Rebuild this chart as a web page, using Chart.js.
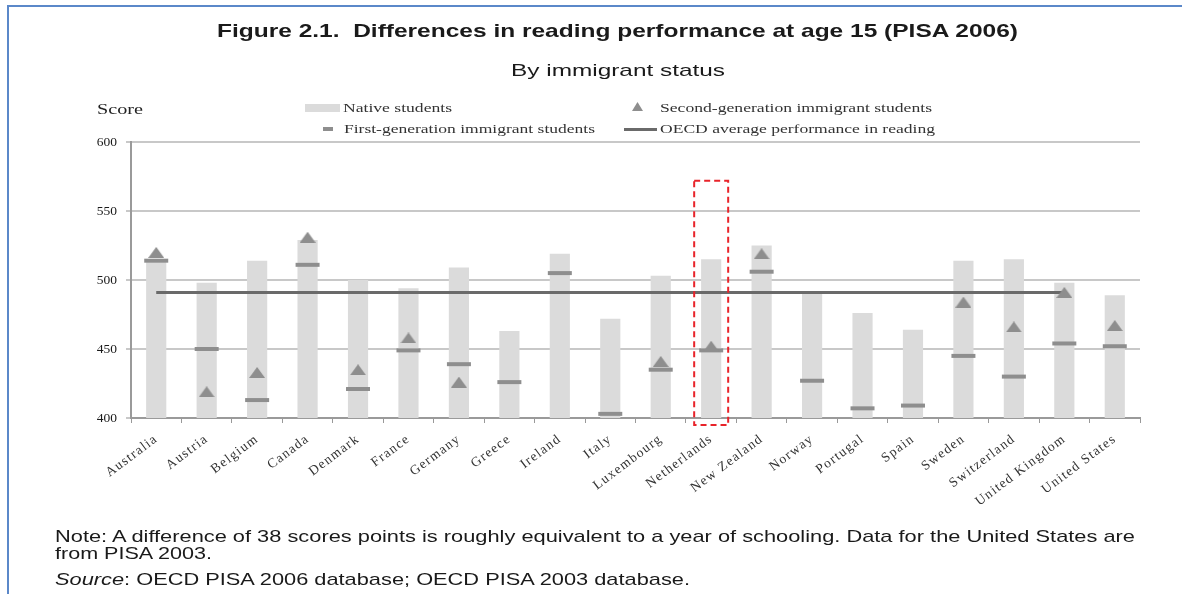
<!DOCTYPE html>
<html>
<head>
<meta charset="utf-8">
<script src="https://cdn.jsdelivr.net/npm/chart.js@4/dist/chart.umd.min.js"></script>
<style>
  body { margin: 0; background: #fff; }
  #wrap { position: relative; width: 1182px; height: 594px; overflow: hidden; }
  #frame { position: absolute; left: 7px; top: 5px; width: 1200px; height: 620px;
           border-top: 2px solid #5b88c9; border-left: 2px solid #5b88c9; }
  canvas { position: absolute; left: 0; top: 0; }
  .t { position: absolute; white-space: nowrap; line-height: 20px; transform-origin: 0 50%; }
  .sans { font-family: "Liberation Sans", Arial, sans-serif; color: #1a1a1a; }
  .serif { font-family: "Liberation Serif", "Times New Roman", serif; color: #333; }
</style>
</head>
<body>
<div id="wrap">
  <div id="frame"></div>
  <canvas id="myChart" width="1182" height="594"></canvas>

  <div class="t sans fit" data-w="801" style="left:217px;top:21px;font-size:18.5px;font-weight:bold;">Figure 2.1.&nbsp; Differences in reading performance at age 15 (PISA 2006)</div>
  <div class="t sans fit" data-w="214" style="left:511px;top:61px;font-size:17px;">By immigrant status</div>

  <div class="t serif fit" data-w="46" style="left:97px;top:99px;font-size:15px;color:#222;">Score</div>

  <div style="position:absolute;left:305px;top:104px;width:35px;height:8px;background:#dbdbdb;"></div>
  <div class="t serif fit" data-w="109" style="left:343px;top:98px;font-size:11.5px;">Native students</div>
  <svg style="position:absolute;left:632px;top:102px;" width="11" height="9"><polygon points="0,9 5.5,0 11,9" fill="#8e8e8e"/></svg>
  <div class="t serif fit" data-w="272" style="left:660px;top:98px;font-size:11.5px;">Second-generation immigrant students</div>
  <div style="position:absolute;left:323px;top:127px;width:10px;height:4px;background:#8e8e8e;"></div>
  <div class="t serif fit" data-w="251" style="left:344px;top:119px;font-size:11.5px;">First-generation immigrant students</div>
  <div style="position:absolute;left:624px;top:128px;width:33px;height:3px;background:#6a6a6a;"></div>
  <div class="t serif fit" data-w="275" style="left:660px;top:119px;font-size:11.5px;">OECD average performance in reading</div>

  <div class="t sans fit" data-w="1080" style="left:55px;top:527px;font-size:17px;">Note: A difference of 38 scores points is roughly equivalent to a year of schooling. Data for the United States are</div>
  <div class="t sans fit" data-w="157" style="left:55px;top:544px;font-size:17px;">from PISA 2003.</div>
  <div class="t sans fit" data-w="635" style="left:55px;top:570px;font-size:17px;"><i>Source</i>: OECD PISA 2006 database; OECD PISA 2003 database.</div>
</div>

<script>
// countries (x axis)
const countries = ['Australia', 'Austria', 'Belgium', 'Canada', 'Denmark', 'France', 'Germany', 'Greece',
  'Ireland', 'Italy', 'Luxembourg', 'Netherlands', 'New Zealand', 'Norway', 'Portugal', 'Spain',
  'Sweden', 'Switzerland', 'United Kingdom', 'United States'];

// scores
const nativeScores = [514, 498, 514, 529, 500, 494, 509, 463, 519, 472, 503, 515, 525, 491, 476, 464, 514, 515, 498, 489];
const firstGen = [514, 450, 413, 511, 421, 449, 439, 426, 505, 403, 435, 449, 506, 427, 407, 409, 445, 430, 454, 452];
const secondGen = [520, 419, 433, 531, 435, 458, 426, null, null, null, 441, 452, 519, null, null, null, 484, 466, 491, 467];
const oecdAverage = [491, 491, 491, 491, 491, 491, 491, 491, 491, 491, 491, 491, 491, 491, 491, 491, 491, 491, 491, null];

// y axis
const yTicks = [400, 450, 500, 550, 600];

// flat triangle marker
const tri = document.createElement('canvas');
tri.width = 16; tri.height = 11;
const tctx = tri.getContext('2d');
tctx.fillStyle = '#8e8e8e';
tctx.beginPath();
tctx.moveTo(0, 11); tctx.lineTo(8, 0); tctx.lineTo(16, 11);
tctx.closePath();
tctx.fill();

const spacing = {
  id: 'spacing',
  beforeDraw(chart) { chart.ctx.letterSpacing = '1.3px'; },
  beforeDatasetsDraw(chart) { chart.ctx.letterSpacing = '0px'; }
};

// red dashed box round the Netherlands
const highlight = {
  id: 'highlight',
  afterDraw(chart) {
    const x = chart.scales.x.getPixelForValue(11);
    const top = chart.scales.y.getPixelForValue(572);
    const bottom = chart.scales.y.bottom + 7;
    const c = chart.ctx;
    c.save();
    c.strokeStyle = '#e8232a';
    c.lineWidth = 2;
    c.setLineDash([6, 4]);
    c.strokeRect(x - 17, top, 34, bottom - top);
    c.restore();
  }
};

const ctx = document.getElementById('myChart').getContext('2d');
const myChart = new Chart(ctx, {
  type: 'bar',
  data: {
    labels: countries,
    datasets: [
      {
        label: 'Native students',
        data: nativeScores,
        backgroundColor: '#dbdbdb',
        barPercentage: 0.4,
        categoryPercentage: 1,
        order: 4
      },
      {
        type: 'line',
        label: 'OECD average performance in reading',
        data: oecdAverage,
        borderColor: '#6a6a6a',
        borderWidth: 3,
        pointRadius: 0,
        spanGaps: false,
        order: 3
      },
      {
        type: 'line',
        label: 'First-generation immigrant students',
        data: firstGen,
        showLine: false,
        pointStyle: 'line',
        pointRadius: 12,
        pointBorderWidth: 4,
        pointBorderColor: '#8e8e8e',
        pointBackgroundColor: '#8e8e8e',
        order: 2
      },
      {
        type: 'line',
        label: 'Second-generation immigrant students',
        data: secondGen,
        showLine: false,
        pointStyle: tri,
        pointRadius: 8,
        order: 1
      }
    ]
  },
  options: {
    responsive: false,
    animation: false,
    devicePixelRatio: 1,
    layout: { padding: { top: 142, right: 42, left: 0, bottom: 0 } },
    plugins: { legend: { display: false }, tooltip: { enabled: false } },
    scales: {
      x: {
        offset: true,
        afterFit(scale) { scale.height = 176; },
        grid: { display: true, drawOnChartArea: false, offset: true, tickLength: 5, color: '#999', lineWidth: 1 },
        border: { color: '#9a9a9a', width: 2 },
        ticks: {
          autoSkip: false, minRotation: 37, maxRotation: 37, padding: 8,
          color: '#333',
          font: { family: '"Liberation Serif", "Times New Roman", serif', size: 13.5 }
        }
      },
      y: {
        min: 400, max: 600,
        afterFit(scale) { scale.width = 131; },
        afterBuildTicks(scale) { scale.ticks = yTicks.map(v => ({ value: v })); },
        grid: { color: '#c8c8c8', lineWidth: 2, tickLength: 5 },
        border: { color: '#9a9a9a', width: 2 },
        ticks: {
          z: 1, padding: 9, color: '#1a1a1a',
          font: { family: '"Liberation Serif", "Times New Roman", serif', size: 13.5 }
        }
      }
    }
  },
  plugins: [spacing, highlight]
});

document.querySelectorAll('.fit').forEach(el => {
  const w = +el.dataset.w;
  el.style.transform = 'scaleX(' + (w / el.getBoundingClientRect().width) + ')';
});
</script>
</body>
</html>
